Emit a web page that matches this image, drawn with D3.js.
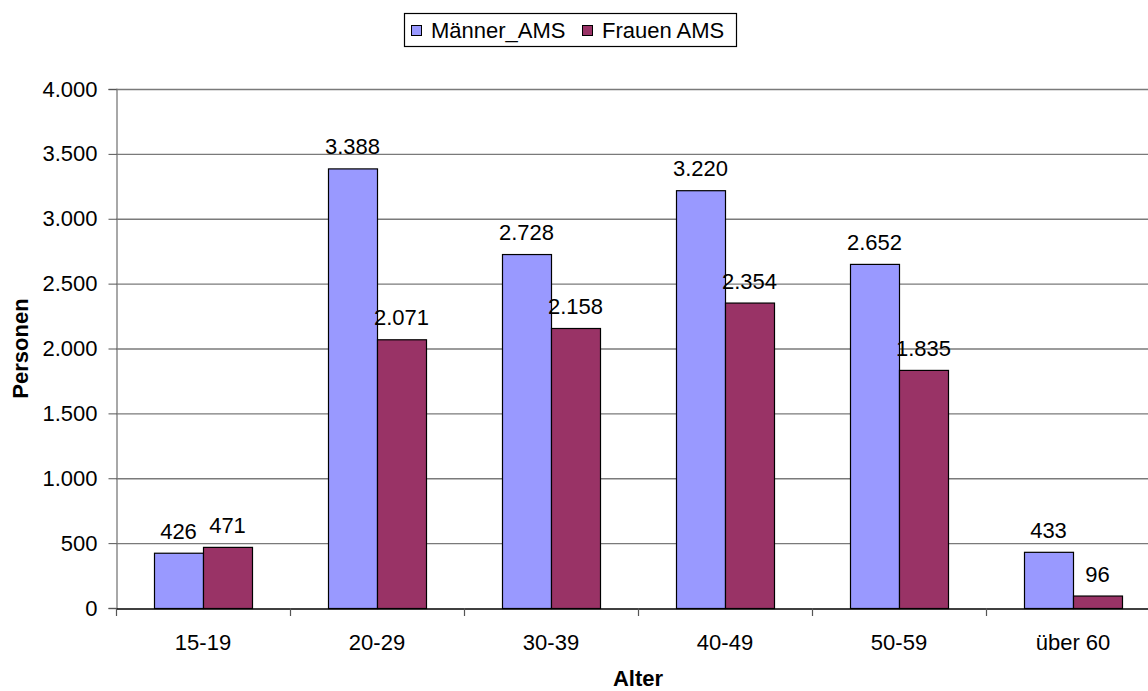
<!DOCTYPE html>
<html>
<head>
<meta charset="utf-8">
<script src="https://cdn.jsdelivr.net/npm/d3@7"></script>
<style>
  html, body { margin: 0; padding: 0; background: #fff; }
  svg { display: block; font-family: Arial, "Liberation Sans", sans-serif; }
</style>
</head>
<body>
<svg id="chart" width="1148" height="691"></svg>
<script>
// Age groups and registered persons per group
const categories = ["15-19", "20-29", "30-39", "40-49", "50-59", "über 60"];
const seriesNames = ["Männer_AMS", "Frauen AMS"];
const maenner = [426, 3388, 2728, 3220, 2652, 433];
const frauen = [471, 2071, 2158, 2354, 1835, 96];
const yTicks = [0, 500, 1000, 1500, 2000, 2500, 3000, 3500, 4000];
const colors = ["#9999FF", "#993366"];

const svg = d3.select("#chart");
const plotL = 116, plotR = 1160, plotT = 89, plotB = 608;
const fs = 22;
const fmt = v => d3.format(",")(v).replace(/,/g, ".");

const x = d3.scaleBand().domain(categories).range([plotL, plotR]).paddingInner(0).paddingOuter(0);
const inner = d3.scaleBand().domain(seriesNames).range([38, x.bandwidth() - 38]);
const y = d3.scaleLinear().domain([0, 4000]).range([plotB, plotT]);

// horizontal grid lines
svg.append("g").selectAll("line").data(yTicks.filter(d => d > 0)).join("line")
  .attr("x1", plotL).attr("x2", plotR)
  .attr("y1", d => y(d) + 0.5).attr("y2", d => y(d) + 0.5)
  .attr("stroke", "#7a7a7a").attr("stroke-width", 1.3);

// y axis
const yAxis = svg.append("g").attr("transform", `translate(${plotL + 0.5},0)`)
  .call(d3.axisLeft(y).tickValues(yTicks).tickSize(8).tickPadding(11).tickFormat(fmt));
yAxis.select(".domain").attr("stroke", "#7a7a7a").attr("stroke-width", 1.3);
yAxis.selectAll(".tick line").attr("stroke", "#555");
yAxis.selectAll("text").attr("font-size", fs).attr("fill", "#000")
  .attr("font-family", "Arial, 'Liberation Sans', sans-serif");

// bars
const data = categories.map((c, i) => ({ c, vals: [maenner[i], frauen[i]] }));
const groups = svg.append("g").selectAll("g").data(data).join("g")
  .attr("transform", d => `translate(${x(d.c)},0)`);
groups.selectAll("rect").data(d => d.vals.map((v, j) => ({ v, s: seriesNames[j], j }))).join("rect")
  .attr("x", d => inner(d.s) + 0.5)
  .attr("width", inner.bandwidth())
  .attr("y", d => y(d.v) + 0.5)
  .attr("height", d => y(0) - y(d.v))
  .attr("fill", d => colors[d.j])
  .attr("stroke", "#000").attr("stroke-width", 1.2);
groups.selectAll("text").data(d => d.vals.map((v, j) => ({ v, s: seriesNames[j] }))).join("text")
  .attr("x", d => inner(d.s) + inner.bandwidth() / 2)
  .attr("y", d => y(d.v) - 14)
  .attr("text-anchor", "middle").attr("font-size", fs)
  .text(d => fmt(d.v));

// x axis
const xAxis = svg.append("g").attr("transform", `translate(0,${plotB + 0.5})`)
  .call(d3.axisBottom(x).tickSize(0).tickPadding(26));
xAxis.select(".domain").attr("stroke", "#000").attr("stroke-width", 1.3);
xAxis.selectAll("text").attr("font-size", fs).attr("fill", "#000")
  .attr("font-family", "Arial, 'Liberation Sans', sans-serif");
svg.append("g").selectAll("line").data(d3.range(categories.length + 1)).join("line")
  .attr("x1", i => plotL + i * x.step() + 0.5).attr("x2", i => plotL + i * x.step() + 0.5)
  .attr("y1", plotB).attr("y2", plotB + 8)
  .attr("stroke", "#555").attr("stroke-width", 1.2);

// axis titles
svg.append("text").attr("x", (plotL + plotR) / 2).attr("y", 686)
  .attr("text-anchor", "middle").attr("font-size", fs).attr("font-weight", "bold").text("Alter");
svg.append("text").attr("transform", `translate(28,${(plotT + plotB) / 2}) rotate(-90)`)
  .attr("text-anchor", "middle").attr("font-size", fs).attr("font-weight", "bold").text("Personen");

// legend
const lg = svg.append("g");
lg.append("rect").attr("x", 404.5).attr("y", 13.5).attr("width", 332).attr("height", 33)
  .attr("fill", "#fff").attr("stroke", "#000").attr("stroke-width", 1.2);
const lx = [411, 582];
seriesNames.forEach((s, i) => {
  lg.append("rect").attr("x", lx[i] + 0.5).attr("y", 25.5).attr("width", 10).attr("height", 10)
    .attr("fill", colors[i]).attr("stroke", "#000").attr("stroke-width", 1);
  lg.append("text").attr("x", lx[i] + 20).attr("y", 38).attr("font-size", fs).text(s);
});
</script>
</body>
</html>
